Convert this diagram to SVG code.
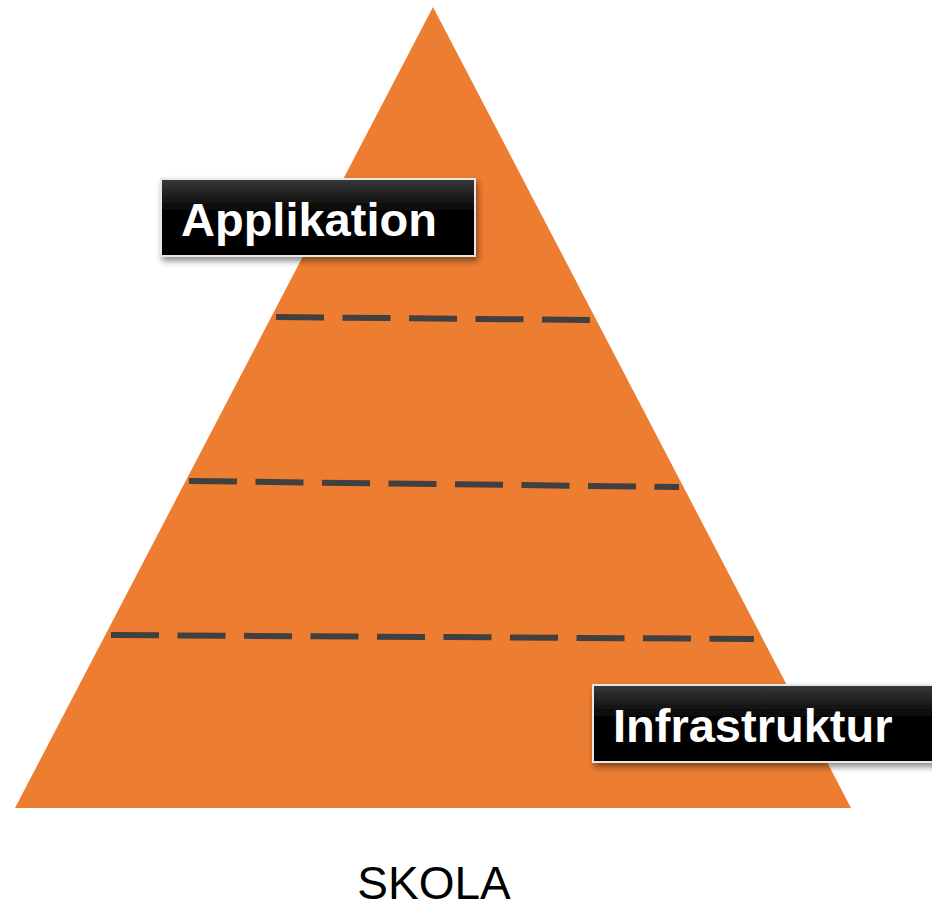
<svg xmlns="http://www.w3.org/2000/svg" width="932" height="910" viewBox="0 0 932 910">
  <defs>
    <linearGradient id="boxGrad" x1="0" y1="0" x2="0" y2="1">
      <stop offset="0" stop-color="#3a3a3a"/>
      <stop offset="0.45" stop-color="#000000"/>
      <stop offset="1" stop-color="#000000"/>
    </linearGradient>
    <filter id="shadow" x="-10%" y="-20%" width="130%" height="160%">
      <feDropShadow dx="2" dy="4" stdDeviation="3" flood-color="#000" flood-opacity="0.45"/>
    </filter>
  </defs>
  <style>
    .tri { fill: #ED7D31; }
    .dash { stroke: #404040; stroke-width: 6; stroke-dasharray: 48 18.5; fill: none; }
    .box { fill: url(#boxGrad); stroke: #e8e8e8; stroke-width: 2; filter: url(#shadow); }
    .lbl { font-family: "Liberation Sans", Arial, sans-serif; font-weight: bold; font-size: 47px; fill: #ffffff; }
    .cap { font-family: "Liberation Sans", Arial, sans-serif; font-size: 46px; fill: #000000; }
  </style>
  <rect width="932" height="910" fill="#ffffff"/>
  <g id="pyramid">
    <polygon class="tri" points="433,7 851,808 15,808"/>
  </g>
  <g id="connectors">
    <line class="dash" x1="276" y1="317" x2="592" y2="320"/>
    <line class="dash" x1="189" y1="481" x2="679" y2="487"/>
    <line class="dash" x1="111" y1="635" x2="754" y2="639"/>
  </g>
  <g id="applikation">
    <rect class="box" x="161" y="179" width="314" height="77"/>
    <text class="lbl" x="181" y="236">Applikation</text>
  </g>
  <g id="infrastruktur">
    <rect class="box" x="593" y="685" width="345" height="77"/>
    <text class="lbl" x="613" y="742">Infrastruktur</text>
  </g>
  <g id="skola">
    <text class="cap" x="434" y="899" text-anchor="middle">SKOLA</text>
  </g>
</svg>
